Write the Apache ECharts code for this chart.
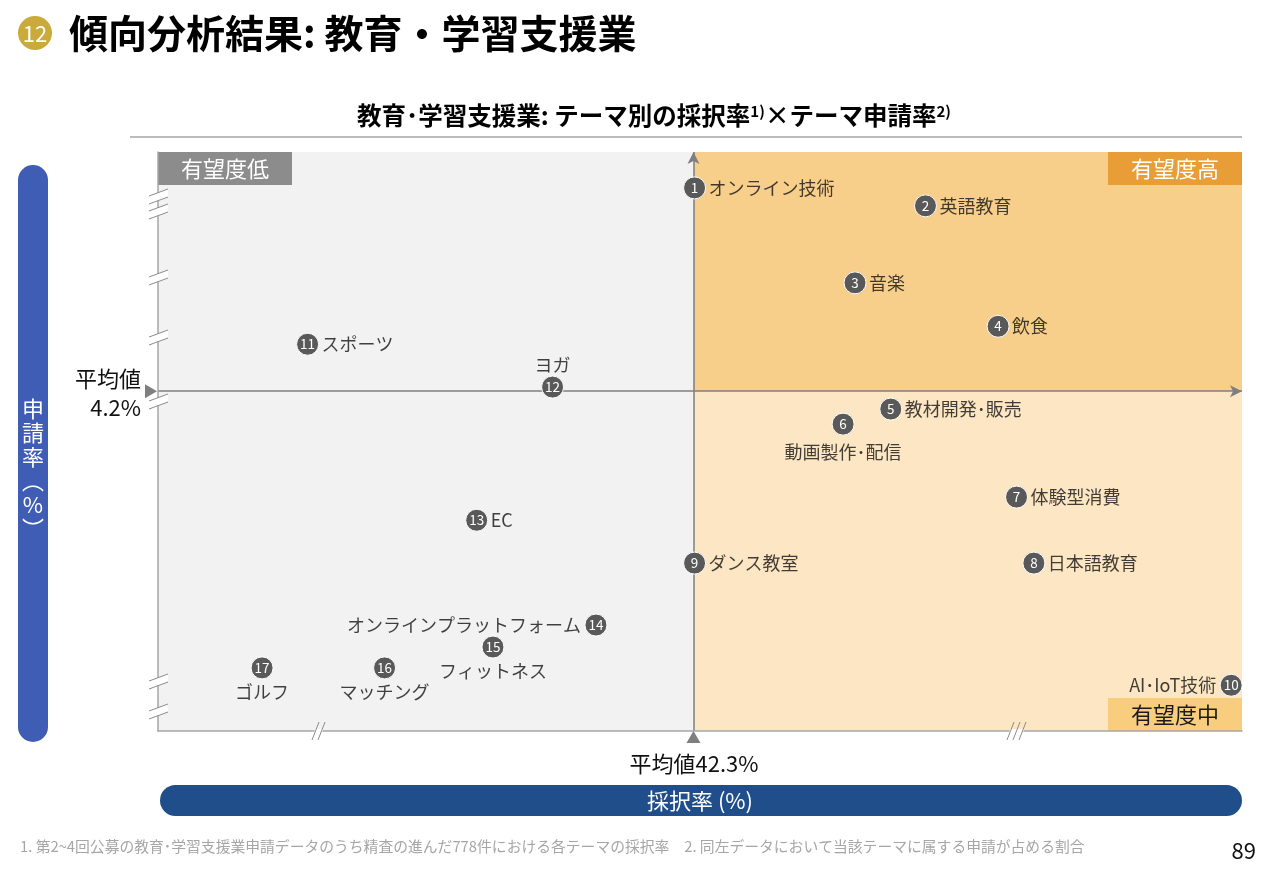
<!DOCTYPE html>
<html><head><meta charset="utf-8">
<script src="https://cdn.jsdelivr.net/npm/echarts@6/dist/echarts.min.js"></script>
<style>html,body{margin:0;padding:0;background:#fff}#c{width:1282px;height:890px}</style>
</head><body><div id="c"></div>
<script>
// ---- data (relative positions on broken axes) ----
const ids = [1,2,3,4,5,6,7,8,9,10,11,12,13,14,15,16,17];
const names = ['オンライン技術','英語教育','音楽','飲食','教材開発･販売','動画製作･配信','体験型消費','日本語教育','ダンス教室','AI･IoT技術','スポーツ','ヨガ','EC','オンラインプラットフォーム','フィットネス','マッチング','ゴルフ'];
const adoptionPos = [49.5,70.8,64.3,77.5,67.6,63.2,79.2,80.8,49.5,99.0,13.8,36.4,29.4,40.4,30.9,20.9,9.6];
const applicationPos = [93.8,90.7,77.4,69.9,55.6,53.0,40.4,29.0,29.0,7.9,66.8,59.4,36.4,18.3,14.5,10.9,10.9];
const labelSide = ['right','right','right','right','right','bottom','right','right','right','left','right','top','right','left','bottom','bottom','bottom'];
const avgAdoption = 49.4;
const avgApplication = 58.7;
const avgAdoptionText = '平均値42.3%';
const avgApplicationText = ['平均値','4.2%'];

const FONT = '"Noto Sans CJK JP","Noto Sans",sans-serif';
const chart = echarts.init(document.getElementById('c'));

function breakMarks(list){
  const out=[];
  list.forEach(b=>{
    if(b.axis==='y'){
      const y=b.pos;
      out.push({type:'polygon',shape:{points:[[149,y+4],[168,y-3],[168,y+5],[149,y+12]]},style:{fill:'#fff'},z:20});
      out.push({type:'line',shape:{x1:149,y1:y+4,x2:168,y2:y-3},style:{stroke:'#8c8c8c',lineWidth:1},z:21});
      out.push({type:'line',shape:{x1:149,y1:y+12,x2:168,y2:y+5},style:{stroke:'#8c8c8c',lineWidth:1},z:21});
    } else {
      const y=731;
      for(let i=0;i<b.n;i++){
        const x=b.pos+i*6;
        out.push({type:'line',shape:{x1:x-4,y1:y+9,x2:x+3,y2:y-9},style:{stroke:'#8c8c8c',lineWidth:1},z:21});
      }
      out.push({type:'polygon',shape:{points:[[b.pos-2,y+2],[b.pos+(b.n-1)*6,y+2],[b.pos+(b.n-1)*6+1,y-2],[b.pos-1,y-2]]},style:{fill:'#fff'},z:20});
    }
  });
  return out;
}

const graphics = [
  {type:'circle',shape:{cx:35,cy:33,r:17},style:{fill:'#c9aa3a'},z:10},
  {type:'text',style:{text:'12',x:35,y:34,fill:'#fff',font:'22px '+FONT,textAlign:'center',textVerticalAlign:'middle'},z:11},
  {type:'text',style:{text:'傾向分析結果: 教育・学習支援業',x:69,y:33,fill:'#000',font:'bold 39px '+FONT,textVerticalAlign:'middle'},z:11},
  {type:'text',style:{text:'{a|教育･学習支援業: テーマ別の採択率}{s|1)}{a|×テーマ申請率}{s|2)}',x:654,y:116,textAlign:'center',textVerticalAlign:'middle',
    rich:{a:{font:'bold 24.5px '+FONT,fill:'#000'},s:{font:'bold 15px '+FONT,fill:'#000',verticalAlign:'top',padding:[0,0,10,0]}}},z:11},
  {type:'line',shape:{x1:130,y1:137,x2:1242,y2:137},style:{stroke:'#a6a6a6',lineWidth:1.5},z:10},
  // quadrant tags
  {type:'rect',shape:{x:158,y:152,width:134,height:33},style:{fill:'#8c8c8c'},z:10},
  {type:'text',style:{text:'有望度低',x:225,y:169,fill:'#fff',font:'22px '+FONT,textAlign:'center',textVerticalAlign:'middle'},z:11},
  {type:'rect',shape:{x:1108,y:152,width:134,height:33},style:{fill:'#e99d36'},z:10},
  {type:'text',style:{text:'有望度高',x:1175,y:169,fill:'#fff',font:'22px '+FONT,textAlign:'center',textVerticalAlign:'middle'},z:11},
  {type:'rect',shape:{x:1108,y:698,width:134,height:33},style:{fill:'#f8cd7d'},z:10},
  {type:'text',style:{text:'有望度中',x:1175,y:715,fill:'#1a1a1a',font:'22px '+FONT,textAlign:'center',textVerticalAlign:'middle'},z:11},
  // axis title bars
  {type:'rect',shape:{x:18,y:165,width:30,height:577,r:15},style:{fill:'#3f5db5'},z:10},
  {type:'text',style:{text:'申\n請\n率\n︵\n%\n︶',x:33,y:397,fill:'#fff',font:'22px '+FONT,textAlign:'center',lineHeight:24},z:11},
  {type:'rect',shape:{x:160,y:785,width:1082,height:31,r:15.5},style:{fill:'#1f4e8a'},z:10},
  {type:'text',style:{text:'採択率 (%)',x:700,y:801,fill:'#fff',font:'22px '+FONT,textAlign:'center',textVerticalAlign:'middle'},z:11},
  // average labels
  {type:'text',style:{text:avgApplicationText[0],x:141,y:379,fill:'#111',font:'22px '+FONT,textAlign:'right',textVerticalAlign:'middle'},z:11},
  {type:'text',style:{text:avgApplicationText[1],x:141,y:408,fill:'#111',font:'22px '+FONT,textAlign:'right',textVerticalAlign:'middle'},z:11},
  {type:'text',style:{text:avgAdoptionText,x:694,y:764,fill:'#111',font:'22px '+FONT,textAlign:'center',textVerticalAlign:'middle'},z:11},
  // footnote & page
  {type:'text',style:{text:'1. 第2~4回公募の教育･学習支援業申請データのうち精査の進んだ778件における各テーマの採択率　2. 同左データにおいて当該テーマに属する申請が占める割合',x:20,y:846,fill:'#a6a6a6',font:'14.8px '+FONT,textVerticalAlign:'middle'},z:11},
  {type:'text',style:{text:'89',x:1256,y:851,fill:'#111',font:'22px '+FONT,textAlign:'right',textVerticalAlign:'middle'},z:11}
].concat(breakMarks([
  {axis:'y',pos:192},{axis:'y',pos:207},{axis:'y',pos:273},{axis:'y',pos:333},{axis:'y',pos:397},{axis:'y',pos:677},{axis:'y',pos:707},
  {axis:'x',pos:316,n:2},{axis:'x',pos:1011,n:3}
]));

const pts = ids.map((id,i)=>[adoptionPos[i],applicationPos[i]]);
const sideDistance = {right:3,left:4,top:2,bottom:4};
const labelData = ids.map((id,i)=>({
  value:[adoptionPos[i],applicationPos[i]],
  name:names[i],
  label:{position:labelSide[i],distance:(i===5?8:sideDistance[labelSide[i]])}
}));

chart.setOption({
  animation:false,
  grid:{left:158,top:152,width:1084,height:579},
  xAxis:{type:'value',min:0,max:100,z:10,axisLine:{show:true,lineStyle:{color:'#a6a6a6',width:1.5}},axisTick:{show:false},axisLabel:{show:false},splitLine:{show:false}},
  yAxis:{type:'value',min:0,max:100,z:10,axisLine:{show:true,lineStyle:{color:'#a6a6a6',width:1.5}},axisTick:{show:false},axisLabel:{show:false},splitLine:{show:false}},
  graphic:graphics,
  series:[
    {type:'scatter',data:[],z:1,clip:false,silent:true,
      markArea:{silent:true,data:[
        [{coord:[0,0],itemStyle:{color:'#f2f2f2'}},{coord:[avgAdoption,100]}],
        [{coord:[avgAdoption,avgApplication],itemStyle:{color:'#f7cf8b'}},{coord:[100,100]}],
        [{coord:[avgAdoption,0],itemStyle:{color:'#fce6c3'}},{coord:[100,avgApplication]}]
      ]},
      markLine:{silent:true,symbol:['none','arrow'],symbolSize:[9,12],label:{show:false},lineStyle:{color:'#7f7f7f',width:1.5,type:'solid'},data:[
        [{coord:[avgAdoption,0]},{coord:[avgAdoption,100]}],
        [{coord:[0,avgApplication]},{coord:[100,avgApplication]}]
      ]},
      markPoint:{silent:true,symbol:'triangle',symbolSize:[14,12],itemStyle:{color:'#7f7f7f'},label:{show:false},data:[
        {coord:[avgAdoption,0],symbolOffset:[0,6]},
        {coord:[0,avgApplication],symbolRotate:-90,symbolOffset:[-7,0]}
      ]}
    },
    {type:'scatter',z:5,symbolSize:22,data:pts,
      itemStyle:{color:'#595959',borderColor:'#fff',borderWidth:1,opacity:1},
      label:{show:true,position:'inside',formatter:p=>ids[p.dataIndex],color:'#fff',fontSize:13.5,fontFamily:FONT}
    },
    {type:'scatter',z:6,symbolSize:22,data:labelData,itemStyle:{color:'rgba(0,0,0,0)'},silent:true,
      labelLayout:{hideOverlap:false},
      label:{show:true,formatter:p=>p.name,color:'#111',fontSize:18,fontFamily:FONT}
    }
  ]
});
</script></body></html>
